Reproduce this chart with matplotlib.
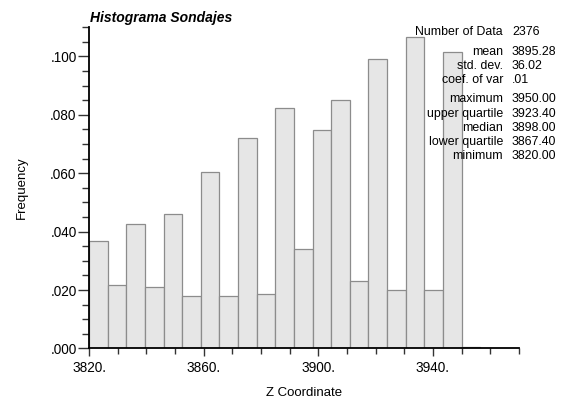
import numpy as np
import matplotlib
matplotlib.use("Agg")
import matplotlib.pyplot as plt
from matplotlib.ticker import MultipleLocator, FixedLocator, FuncFormatter

plt.rcParams['font.family'] = ['Liberation Sans', 'DejaVu Sans']

# Histogram bins (width 6.5) and relative frequencies
bin_start = 3820.0
bin_width = 6.5
freqs = [0.0368, 0.0219, 0.0425, 0.0210, 0.0460, 0.0180, 0.0603, 0.0180,
         0.0722, 0.0186, 0.0823, 0.0342, 0.0749, 0.0852, 0.0232, 0.0992,
         0.0199, 0.1068, 0.0199, 0.1014, 0.0005]

x_ticks = [3820, 3860, 3900, 3940]

stat_names = ["Number of Data", "mean", "std. dev.", "coef. of var",
              "maximum", "upper quartile", "median", "lower quartile", "minimum"]
stat_values = ["2376", "3895.28", "36.02", ".01",
               "3950.00", "3923.40", "3898.00", "3867.40", "3820.00"]

edges = bin_start + bin_width * np.arange(len(freqs))

fig = plt.figure(figsize=(5.64, 4.01), dpi=100)
ax = fig.add_axes([0.158, 0.131, 0.762, 0.801])

ax.bar(edges, freqs, width=bin_width, align='edge',
       color='#e6e6e6', edgecolor='#8c8c8c', linewidth=0.9, zorder=2)

ax.set_xlim(3820, 3970)
ax.set_ylim(0, 0.11)
for s in ['top', 'right']:
    ax.spines[s].set_visible(False)
ax.spines['left'].set_linewidth(1.3)
ax.spines['bottom'].set_linewidth(1.3)

ax.xaxis.set_major_locator(FixedLocator(x_ticks))
ax.xaxis.set_minor_locator(MultipleLocator(10))
ax.yaxis.set_major_locator(MultipleLocator(0.02))
ax.yaxis.set_minor_locator(MultipleLocator(0.005))
ax.xaxis.set_major_formatter(FuncFormatter(lambda v, p: f"{v:.0f}."))
ax.yaxis.set_major_formatter(FuncFormatter(lambda v, p: f"{v:.3f}".lstrip('0')))
ax.tick_params(axis='both', which='major', labelsize=9.8, width=1, color='#333333')
ax.tick_params(axis='y', which='major', length=8, pad=1)
ax.tick_params(axis='y', which='minor', length=5, width=1, color='#333333')
ax.tick_params(axis='x', which='major', length=6, pad=3)
ax.tick_params(axis='x', which='minor', length=4, width=1, color='#333333')

ax.set_xlabel("Z Coordinate", fontsize=9.5, labelpad=9)
ax.set_ylabel("Frequency", fontsize=9.5, labelpad=16)

fig.text(90 / 564, 1 - 18 / 401, "Histograma Sondajes", fontsize=10,
         fontweight='bold', fontstyle='italic', va='center', ha='left')

# Summary statistics block, drawn over the bars
rows_y = [32, 52, 66, 80.3, 99.3, 113.7, 127.7, 142, 156]
for name, val, y in zip(stat_names, stat_values, rows_y):
    fig.text(503 / 564, 1 - y / 401, name, fontsize=8.9, ha='right', va='center')
    fig.text(512 / 564, 1 - y / 401, val, fontsize=8.9, ha='left', va='center')

fig.savefig("out.png", dpi=100)
